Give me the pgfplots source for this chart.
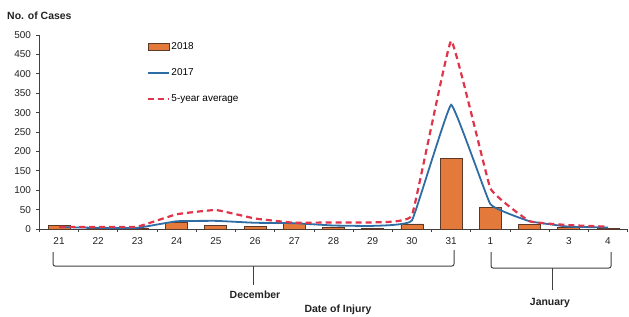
\documentclass[border=0pt]{standalone}
\usepackage{fontspec}
\setmainfont{Liberation Sans}
\usepackage{pgfplots}
\pgfplotsset{compat=1.18}
\definecolor{barfill}{HTML}{E37A3B}
\definecolor{bardraw}{HTML}{5B3A2A}
\definecolor{blueline}{HTML}{2E6DA4}
\definecolor{redline}{HTML}{E0344B}
\definecolor{axisgray}{HTML}{404040}
\definecolor{txt}{HTML}{222222}
\pgfplotsset{
  barlegend/.style={legend image code/.code={\draw[##1] (0bp,-3.5bp) rectangle (21bp,3.5bp);}},
  linelegend/.style={legend image code/.code={\draw[##1] (0bp,0bp) -- (21bp,0bp);}},
}
\begin{document}
\begin{tikzpicture}[x=1bp,y=1bp]
\begin{axis}[
  at={(39.4bp,87bp)}, anchor=south west,
  scale only axis, width=588.2bp, height=194bp,
  xmin=-0.5, xmax=14.5, ymin=0, ymax=500,
  axis x line*=bottom, axis y line*=left,
  axis line style={axisgray, line width=0.9bp},
  ytick={0,50,...,500},
  xtick={0,...,14},
  xticklabels={21,22,23,24,25,26,27,28,29,30,31,1,2,3,4},
  major x tick style={draw=none},
  minor xtick={-0.5,0.5,...,14.5},
  tick align=outside,
  major tick length=3bp, minor tick length=3bp,
  tick style={axisgray, line width=0.8bp},
  tick label style={font=\fontsize{10}{11}\selectfont, text=txt},
  /pgf/number format/assume math mode=true,
  xticklabel style={yshift=-2bp},
  yticklabel style={xshift=-2bp},
  clip=false,
  legend style={at={(0.178,0.975)}, anchor=north west, draw=none, fill=none,
    font=\fontsize{10}{11}\selectfont, row sep=15.5bp, nodes={inner xsep=1bp, inner ysep=1bp}},
  legend cell align=left,
]
\addplot[ybar, bar width=22bp, bar shift=0pt, fill=barfill, draw=bardraw, line width=0.8bp, barlegend]
  coordinates {(0,8) (1,2) (2,2) (3,16) (4,10) (5,6) (6,15) (7,3) (8,2) (9,13) (10,182) (11,56) (12,12) (13,3) (14,2)};
\addlegendentry{2018}
\addplot[blueline, line width=1.8bp, smooth, tension=0.15, linelegend]
  coordinates {(0,5) (1,3) (2,3) (3,20) (4,21) (5,16) (6,15) (7,9) (8,8) (9,22) (10,320) (11,64) (12,20) (13,6) (14,4)};
\addlegendentry{2017}
\addplot[redline, line width=2.2bp, dash pattern=on 6bp off 4bp, smooth, tension=0.15, linelegend]
  coordinates {(0,5) (1,5) (2,6) (3,38) (4,49) (5,27) (6,16) (7,17) (8,17) (9,35) (10,485) (11,105) (12,20) (13,10) (14,6)};
\addlegendentry{5-year average}
\end{axis}
\node[anchor=west, font=\bfseries\fontsize{10.5}{12}\selectfont, text=txt, inner sep=0pt] at (7,300.5) {No. of Cases};
\draw[axisgray, line width=1bp, rounded corners=2bp] (53,64) -- (53,50) -- (454,50) -- (454,66);
\draw[axisgray, line width=1bp] (253,50) -- (253,31);
\draw[axisgray, line width=1bp, rounded corners=2bp] (491,64) -- (491,48) -- (611,48) -- (611,64);
\draw[axisgray, line width=1bp] (552,48) -- (552,26);
\node[font=\bfseries\fontsize{10.5}{12}\selectfont, text=txt, inner sep=0pt] at (255,21) {December};
\node[font=\bfseries\fontsize{10.5}{12}\selectfont, text=txt, inner sep=0pt] at (550,13) {January};
\node[font=\bfseries\fontsize{10.5}{12}\selectfont, text=txt, inner sep=0pt] at (338,6) {Date of Injury};
\pgfresetboundingbox
\path[use as bounding box] (0,0) rectangle (629,316);
\end{tikzpicture}
\end{document}
